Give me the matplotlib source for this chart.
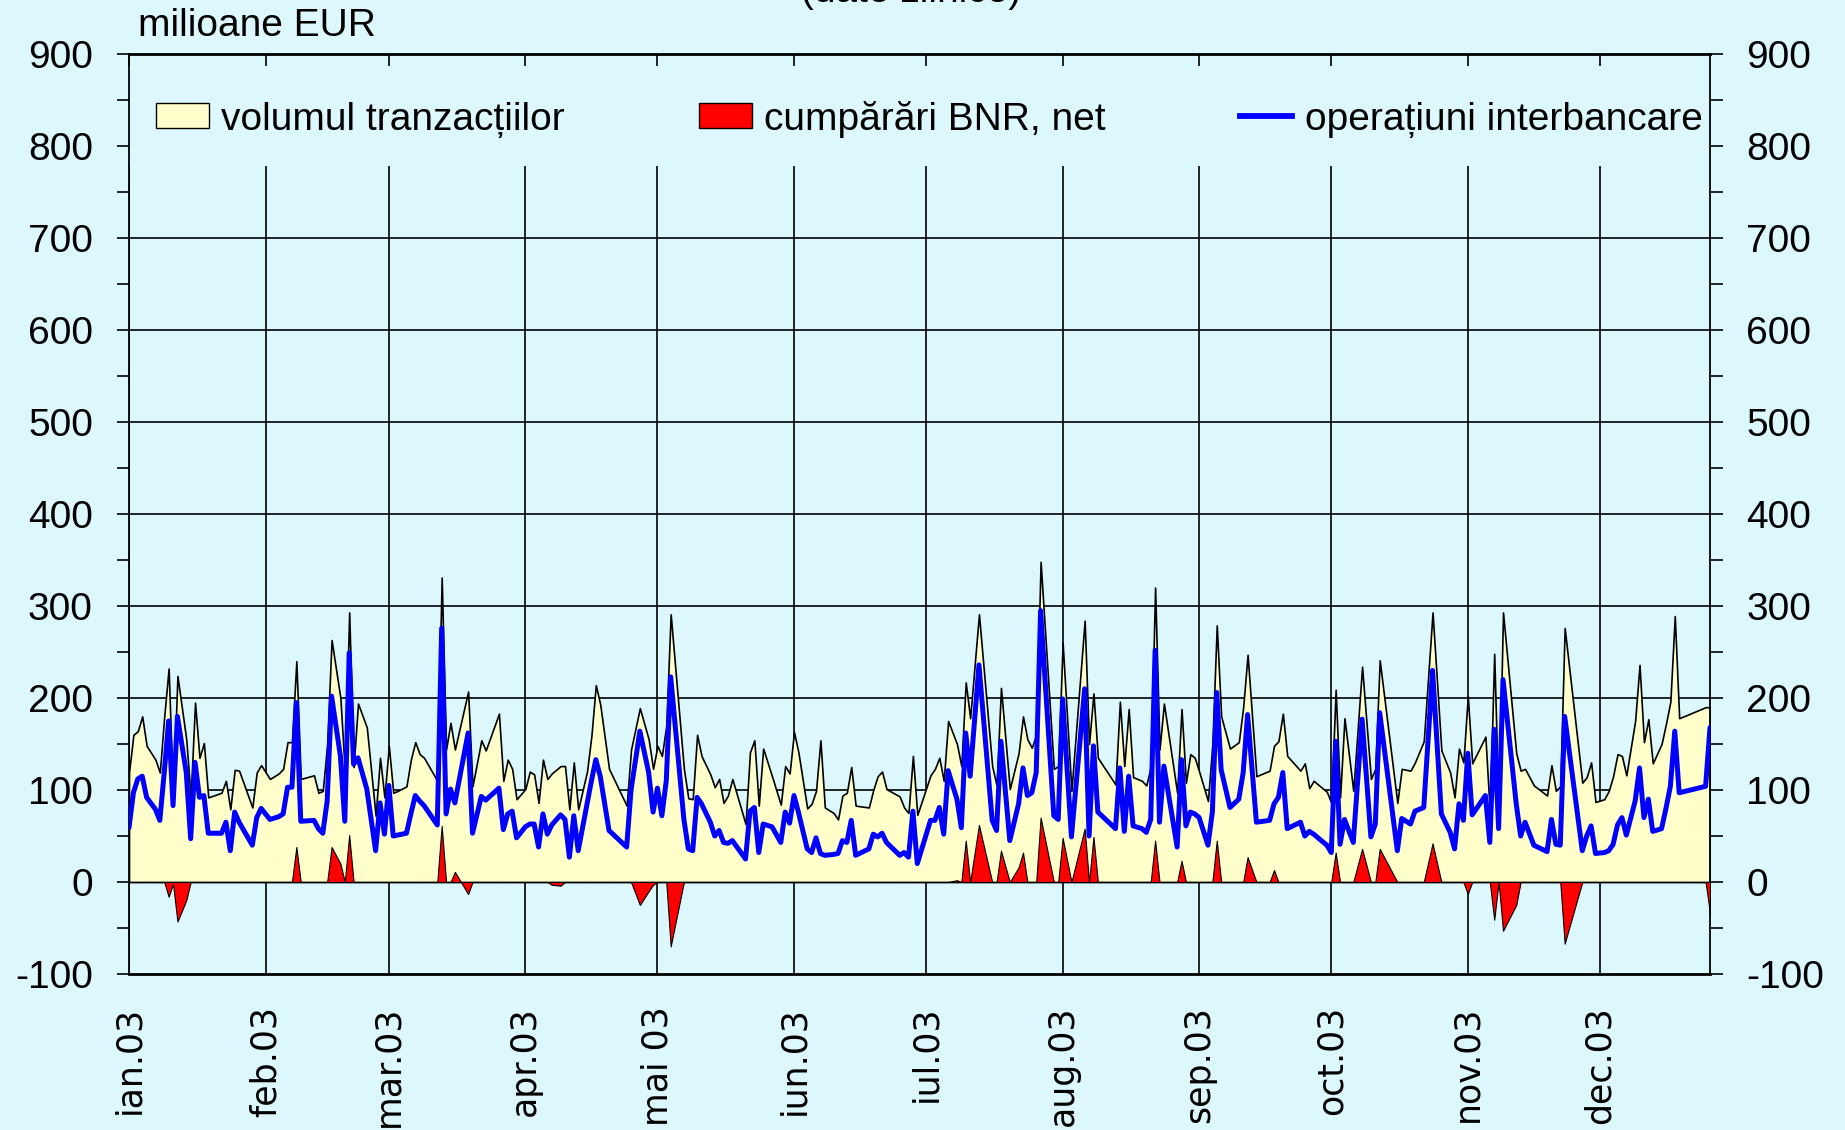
import matplotlib
matplotlib.use("Agg")
import matplotlib.pyplot as plt
import numpy as np
import pandas as pd
from matplotlib.patches import Patch
from matplotlib.lines import Line2D
from matplotlib.ticker import MultipleLocator

plt.rcParams['font.family'] = ['Liberation Sans', 'DejaVu Sans']
plt.rcParams['axes.unicode_minus'] = False

# ---------------- data (day of year 2003, 0 = 1 Jan) ----------------
day_of_year = (
    [0, 1, 2, 3, 4, 6, 7, 8, 9, 10, 11, 13, 14, 15, 16, 17, 18, 21, 22, 23, 24, 25, 28, 29, 30]
    + [32, 34, 35, 36, 37, 38, 39, 42, 43, 44, 45, 46, 48, 49, 50, 51, 52, 54, 56, 57, 58]
    + [59, 60, 61, 63, 64, 65, 66, 67, 70, 71, 72, 73, 74, 77, 78, 80, 81, 84, 85, 86, 87, 88]
    + [90, 91, 92, 93, 94, 95, 96, 98, 99, 100, 101, 102, 104, 105, 106, 107, 109, 111, 113, 114, 116, 118, 119]
    + [120, 121, 122, 123, 126, 127, 128, 129, 130, 132, 133, 134, 135, 136, 137, 140, 141, 142, 143, 144, 146, 148, 149, 150]
    + [151, 152, 154, 155, 156, 157, 158, 160, 161, 162, 163, 164, 165, 168, 169, 170, 171, 172, 175, 176, 177, 178, 179]
    + [182, 183, 184, 185, 186, 188, 189, 190, 191, 193, 196, 197, 198, 200, 202, 203, 204, 205, 206, 207, 210, 211]
    + [212, 214, 217, 218, 219, 220, 224, 225, 226, 227, 228, 230, 231, 232, 233, 234, 235, 238, 239, 240, 241, 242]
    + [243, 245, 246, 247, 248, 250, 252, 253, 254, 256, 259, 260, 261, 262, 263, 266, 267, 268, 269, 272, 273]
    + [274, 275, 276, 278, 280, 282, 283, 284, 288, 289, 291, 292, 294, 296, 298, 300, 301, 302, 303]
    + [304, 305, 308, 309, 310, 311, 312, 315, 316, 317, 319, 322, 323, 324, 325, 326, 330, 331, 332, 333]
    + [335, 336, 337, 338, 339, 340, 342, 343, 344, 345, 346, 348, 349, 350, 351, 352, 358, 359]
)

volume = (
    [119, 160, 164, 180, 148, 133, 119, 180, 232, 90, 224, 155, 92, 195, 135, 151, 92, 97, 110, 79, 122, 121, 81, 119, 127]
    + [112, 118, 123, 152, 152, 240, 112, 116, 97, 99, 150, 263, 200, 120, 293, 125, 194, 168, 72, 135, 92]
    + [148, 97, 99, 104, 133, 152, 139, 135, 110, 331, 144, 173, 144, 207, 104, 154, 143, 183, 110, 133, 123, 90]
    + [101, 120, 117, 86, 133, 112, 118, 126, 126, 79, 130, 79, 120, 159, 214, 193, 123, 103, 83, 144, 189, 155, 123]
    + [148, 137, 170, 291, 123, 91, 90, 160, 137, 117, 103, 112, 86, 94, 112, 63, 141, 154, 83, 145, 115, 84, 126, 118]
    + [163, 141, 80, 85, 99, 154, 81, 75, 68, 94, 97, 125, 83, 81, 100, 115, 120, 101, 93, 81, 75, 137, 73]
    + [116, 123, 135, 110, 175, 150, 126, 217, 178, 291, 126, 105, 211, 101, 140, 180, 155, 146, 160, 348, 123, 126]
    + [260, 99, 284, 150, 205, 135, 106, 196, 126, 188, 114, 110, 105, 125, 320, 144, 194, 97, 188, 108, 139, 135]
    + [120, 88, 150, 279, 180, 145, 152, 190, 247, 115, 121, 148, 153, 183, 137, 121, 129, 102, 110, 98, 86]
    + [209, 92, 178, 99, 234, 112, 123, 241, 86, 123, 121, 130, 153, 293, 143, 119, 92, 145, 130]
    + [202, 129, 158, 75, 248, 75, 293, 140, 121, 123, 105, 94, 127, 99, 104, 276, 108, 114, 130, 87]
    + [90, 99, 115, 139, 137, 116, 175, 236, 152, 177, 129, 150, 172, 196, 289, 178, 190, 190]
)

interbank = (
    [59, 97, 112, 115, 92, 79, 67, 119, 175, 83, 180, 119, 47, 130, 92, 94, 53, 53, 65, 34, 76, 65, 40, 70, 80]
    + [68, 71, 74, 103, 103, 195, 66, 67, 58, 53, 88, 202, 137, 66, 249, 128, 135, 101, 34, 86, 52]
    + [105, 50, 51, 53, 74, 94, 88, 83, 62, 276, 74, 101, 86, 162, 53, 93, 89, 102, 57, 74, 77, 48]
    + [60, 63, 63, 38, 74, 52, 62, 73, 68, 27, 72, 34, 85, 110, 133, 115, 56, 47, 38, 100, 164, 119, 76]
    + [102, 72, 110, 223, 68, 36, 34, 92, 85, 65, 50, 56, 43, 42, 45, 25, 77, 81, 32, 63, 60, 43, 76, 64]
    + [94, 76, 36, 32, 48, 31, 29, 30, 31, 45, 43, 67, 29, 36, 52, 49, 53, 43, 29, 32, 27, 77, 20]
    + [67, 67, 81, 52, 121, 90, 59, 162, 115, 236, 67, 56, 153, 45, 85, 124, 94, 97, 119, 295, 72, 68]
    + [199, 49, 210, 50, 148, 76, 58, 124, 55, 115, 61, 58, 54, 68, 252, 65, 126, 38, 133, 61, 76, 74]
    + [70, 40, 76, 206, 122, 81, 90, 119, 182, 65, 67, 85, 92, 119, 58, 65, 50, 55, 52, 40, 32]
    + [153, 41, 68, 43, 177, 49, 63, 184, 34, 69, 63, 77, 81, 230, 74, 54, 36, 85, 67]
    + [140, 73, 94, 43, 166, 58, 220, 85, 50, 65, 40, 33, 68, 41, 40, 180, 34, 50, 61, 31]
    + [32, 34, 41, 62, 70, 51, 88, 124, 70, 90, 55, 58, 80, 104, 164, 97, 104, 168]
)

bnr_net = (
    [0, 0, 0, 0, 0, 0, 0, 0, -16, -2, -43, -20, 0, 0, 0, 0, 0, 0, 0, 0, 0, 0, 0, 0, 0]
    + [0, 0, 0, 0, 0, 38, 0, 0, 0, 0, 0, 38, 20, 0, 51, 0, 0, 0, 0, 0, 0]
    + [0, 0, 0, 0, 0, 0, 0, 0, 0, 61, 0, 0, 11, -13, 0, 0, 0, 0, 0, 0, 0, 0]
    + [0, 0, 0, 0, 0, 0, -3, -4, 0, 0, 0, 0, 0, 0, 0, 0, 0, 0, 0, 0, -25, -10, -3]
    + [0, 0, 0, -70, 0, 0, 0, 0, 0, 0, 0, 0, 0, 0, 0, 0, 0, 0, 0, 0, 0, 0, 0, 0]
    + [0] * 23
    + [0, 0, 0, 0, 0, 2, 0, 45, 0, 62, 0, 0, 34, 0, 16, 32, 0, 0, 0, 70, 0, 0]
    + [48, 0, 58, 0, 49, 0, 0, 0, 0, 0, 0, 0, 0, 0, 45, 0, 0, 0, 23, 0, 0, 0]
    + [0, 0, 0, 45, 0, 0, 0, 0, 27, 0, 0, 13, 0, 0, 0, 0, 0, 0, 0, 0, 0]
    + [32, 0, 0, 0, 36, 0, 0, 36, 0, 0, 0, 0, 0, 42, 0, 0, 0, 0, 0]
    + [-13, 0, 0, 0, -41, 0, -53, -25, 0, 0, 0, 0, 0, 0, 0, -67, 0, 0, 0, 0]
    + [0] * 17 + [-34]
)

month_labels = ["ian.03", "feb.03", "mar.03", "apr.03", "mai 03", "iun.03",
                "iul.03", "aug.03", "sep.03", "oct.03", "nov.03", "dec.03"]
series_labels = ["volumul tranzacțiilor", "cumpărări BNR, net", "operațiuni interbancare"]
y_ticks = list(range(-100, 901, 100))
grid_levels = list(range(0, 701, 100))

# ---------------- styling ----------------
BG = "#ddf8fd"
VOL_COLOR = "#ffffcc"
BNR_COLOR = "#ff0000"
LINE_COLOR = "#0000ff"
FS = 28
MONTH_FONT = ["DejaVu Sans"]

dates = pd.Timestamp("2003-01-01") + pd.to_timedelta(day_of_year, unit="D")
month_starts = pd.date_range("2003-01-01", periods=12, freq="MS")

W, H = 1845, 1130
fig = plt.figure(figsize=(W / 100, H / 100), dpi=100, facecolor=BG)
ax = fig.add_axes([129 / W, 1 - 974 / H, (1710 - 129) / W, (974 - 54) / H])
ax.set_facecolor(BG)

ax.set_xlim(dates[0], dates[-1])
ax.set_ylim(-100, 900)

# gridlines (the legend band hides them in the top part)
ax.hlines(grid_levels, dates[0], dates[-1], colors="black", linewidth=1.2, zorder=1)
ax.vlines(month_starts, -100, 778, colors="black", linewidth=1.2, zorder=1)

ax.fill_between(dates, 0, volume, facecolor=VOL_COLOR, edgecolor="black",
                linewidth=1.2, zorder=2)
ax.fill_between(dates, 0, bnr_net, facecolor=BNR_COLOR, edgecolor="black",
                linewidth=0.8, zorder=3, interpolate=True)
ax.plot(dates, interbank, color=LINE_COLOR, linewidth=3.6, zorder=4,
        solid_joinstyle="round", solid_capstyle="round")

# y axes (left and right)
ax.set_yticks(y_ticks)
ax.yaxis.set_minor_locator(MultipleLocator(50))
ax.tick_params(axis="y", which="both", left=True, right=True, labelleft=True,
               labelright=True, direction="out", length=9, width=1.2, pad=17,
               labelsize=FS, colors="black")

# x axis
ax.set_xticks(month_starts)
ax.set_xticklabels(month_labels, rotation=90, fontsize=25, family=MONTH_FONT)
ax.tick_params(axis="x", which="major", top=True, bottom=False, direction="in",
               length=8.6, width=1.2, pad=23)
ax.tick_params(axis="x", which="minor", top=False, bottom=False)

for side, sp in ax.spines.items():
    sp.set_color("black")
    sp.set_linewidth(1.3)
ax.spines["top"].set_linewidth(2)
ax.spines["bottom"].set_linewidth(2)

# legend
handles = [
    Patch(facecolor=VOL_COLOR, edgecolor="black", linewidth=1.0),
    Patch(facecolor=BNR_COLOR, edgecolor="black", linewidth=1.0),
    Line2D([], [], color=LINE_COLOR, linewidth=4.2),
]
fig.legend(handles, series_labels, loc="center left",
           bbox_to_anchor=(156 / W, 1 - 119 / H), ncol=3, frameon=False,
           fontsize=FS, handlelength=1.36, handleheight=0.6, handletextpad=0.31,
           columnspacing=3.45, borderpad=0, borderaxespad=0)

fig.text(138 / W, 1 - 36 / H, "milioane EUR", fontsize=FS, va="baseline", ha="left")
fig.text(911 / W, 1 - 2 / H, "(date zilnice)", fontsize=FS, va="baseline", ha="center")

fig.savefig("out.png", dpi=100, facecolor=BG)
